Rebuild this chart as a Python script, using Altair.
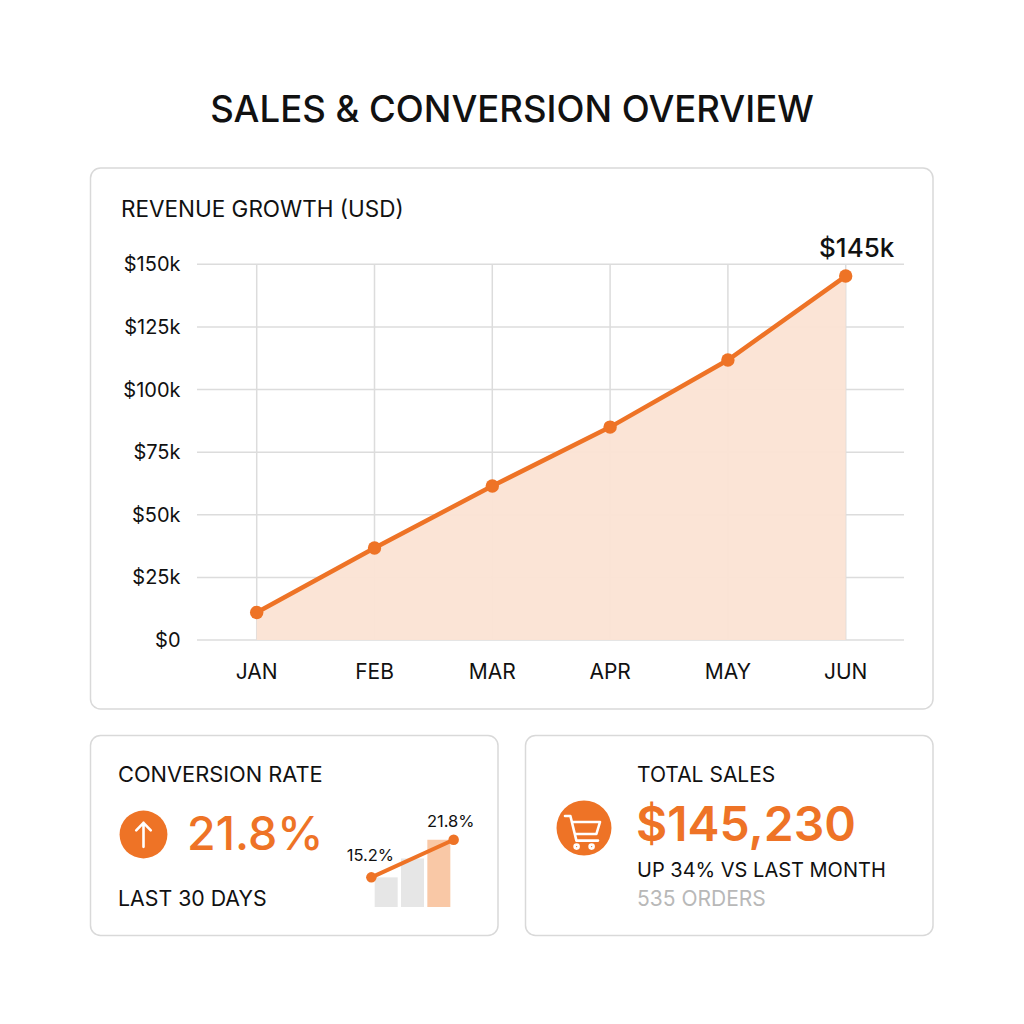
import altair as alt
import pandas as pd

# ---------------- data ----------------
months = ["JAN", "FEB", "MAR", "APR", "MAY", "JUN"]
revenue = [11000, 36700, 61500, 85000, 111800, 145300]
y_ticks = [0, 25000, 50000, 75000, 100000, 125000, 150000]
y_tick_labels = ["$0", "$25k", "$50k", "$75k", "$100k", "$125k", "$150k"]
conv_periods = [1, 2, 3]
conv_rates = [15.2, 18.5, 21.8]
total_sales = 145230
growth_pct = 34
orders = 535

# ---------------- style ----------------
FONT = "Inter"
ORANGE = "#EE7326"
AREA = "#FBE3D4"
GRID = "#DCDCDC"
BORDER = "#D9D9D9"
INK = "#111111"
GRAYBAR = "#E6E6E6"
PEACH = "#F9C8A6"


def P(v):
    # page pixel -> chart pixel (8px page margin, no padding)
    return v - 8


one = pd.DataFrame({"k": [0]})


def text(s, x, y, size, color=INK, weight=400, align="left", baseline="alphabetic"):
    return alt.Chart(one).mark_text(
        text=s, align=align, baseline=baseline, font=FONT, fontSize=size,
        fontWeight=weight, color=color
    ).encode(x=alt.value(P(x)), y=alt.value(P(y)))


def card(x0, y0, x1, y1):
    return alt.Chart(one).mark_rect(
        fill="white", stroke=BORDER, strokeWidth=1.5, cornerRadius=10
    ).encode(x=alt.value(P(x0)), x2=alt.value(P(x1)), y=alt.value(P(y0)), y2=alt.value(P(y1)))


rev_df = pd.DataFrame({"month": months, "revenue": revenue})
tick_df = pd.DataFrame({"v": y_ticks, "label": y_tick_labels})
conv_df = pd.DataFrame({"idx": conv_periods, "rate": conv_rates})
trend_df = pd.DataFrame({"x0": [conv_periods[0]], "x1": [conv_periods[-1]],
                         "r0": [conv_rates[0]], "r1": [conv_rates[-1]]})

main_x = alt.Scale(type="point", domain=months, range=[P(256.7), P(845.7)], padding=0)
main_y = alt.Scale(domain=[0, 150000], range=[P(640), P(264.3)], nice=False, zero=True)
X = alt.X("month:N", sort=months, scale=main_x, axis=None)
Y = alt.Y("revenue:Q", scale=main_y, axis=None)

mini_x = alt.Scale(domain=[0.5, 3.5], range=[P(368), P(457)], nice=False, zero=False)
mini_y = alt.Scale(domain=[10, 22], range=[P(907), P(838.6)], nice=False, zero=False)

layers = []

# cards
layers += [card(90.5, 168, 933, 709), card(90.5, 735.5, 498, 935.5), card(525.5, 735.5, 933, 935.5)]

# title
layers.append(text("SALES & CONVERSION OVERVIEW", 512, 121.5, 36.5, weight=500, align="center"))
layers.append(text("REVENUE GROWTH (USD)", 121, 216.7, 22.5))

# grid
layers.append(alt.Chart(tick_df).mark_rule(color=GRID, strokeWidth=1.5).encode(
    y=alt.Y("v:Q", scale=main_y, axis=None), x=alt.value(P(197)), x2=alt.value(P(904))))
layers.append(alt.Chart(rev_df).mark_rule(color=GRID, strokeWidth=1.5).encode(
    x=X, y=alt.value(P(264.3)), y2=alt.value(P(640))))

# area / line / points
layers.append(alt.Chart(rev_df).mark_area(color=AREA, opacity=0.95).encode(x=X, y=Y))
layers.append(alt.Chart(rev_df).mark_line(color=ORANGE, strokeWidth=4.5).encode(x=X, y=Y))
layers.append(alt.Chart(rev_df).mark_circle(color=ORANGE, size=180, opacity=1).encode(x=X, y=Y))

# y tick labels
layers.append(alt.Chart(tick_df).mark_text(
    align="right", baseline="middle", font=FONT, fontSize=20, color=INK, dy=1).encode(
    y=alt.Y("v:Q", scale=main_y, axis=None), x=alt.value(P(180.5)), text="label:N"))
# month labels
layers.append(alt.Chart(rev_df).mark_text(
    align="center", baseline="alphabetic", font=FONT, fontSize=21, color=INK).encode(
    x=X, y=alt.value(P(679)), text="month:N"))
# last value annotation
layers.append(alt.Chart(rev_df).transform_filter(alt.datum.month == months[-1]).transform_calculate(
    lbl="'$' + format(datum.revenue / 1000, '.0f') + 'k'").mark_text(
    align="center", baseline="alphabetic", font=FONT, fontSize=26, fontWeight=500,
    color=INK, dx=11, dy=-19.5).encode(x=X, y=Y, text="lbl:N"))

# ---------- conversion card ----------
layers.append(text("CONVERSION RATE", 118, 782.3, 21.8))
layers.append(text("LAST 30 DAYS", 118, 905.7, 21.3))
layers.append(text(f"{conv_rates[-1]}%", 187, 850, 46.5, color=ORANGE, weight=500))
layers.append(alt.Chart(one).mark_circle(color=ORANGE, size=2290, opacity=1).encode(
    x=alt.value(P(143.5)), y=alt.value(P(834.5))))
arrow = "M0,-0.9 L0,0.95 M-0.56,-0.32 L0,-0.9 L0.56,-0.32"
layers.append(alt.Chart(one).mark_point(
    shape=arrow, size=676, filled=False, stroke="white", strokeWidth=2.6,
    strokeCap="round", strokeJoin="round", opacity=1).encode(
    x=alt.value(P(143.5)), y=alt.value(P(834.5))))

# mini bars
layers.append(alt.Chart(conv_df).mark_bar(size=23).encode(
    x=alt.X("idx:Q", scale=mini_x, axis=None),
    y=alt.Y("rate:Q", scale=mini_y, axis=None, stack=None),
    y2=alt.value(P(907)),
    color=alt.condition(alt.datum.idx == conv_periods[-1], alt.value(PEACH), alt.value(GRAYBAR))))
layers.append(alt.Chart(trend_df).mark_rule(
    color=ORANGE, strokeWidth=4, strokeCap="round", xOffset=-11.5, x2Offset=11.5).encode(
    x=alt.X("x0:Q", scale=mini_x, axis=None), x2="x1:Q",
    y=alt.Y("r0:Q", scale=mini_y, axis=None), y2="r1:Q"))
for idx, off, ddx, ddy in [(conv_periods[0], -11.5, -1, -16.7), (conv_periods[-1], 11.5, -3, -13)]:
    base = alt.Chart(conv_df).transform_filter(alt.datum.idx == idx)
    enc = dict(x=alt.X("idx:Q", scale=mini_x, axis=None), y=alt.Y("rate:Q", scale=mini_y, axis=None))
    layers.append(base.mark_circle(color=ORANGE, size=110, opacity=1, xOffset=off).encode(**enc))
    layers.append(base.transform_calculate(lbl="format(datum.rate, '.1f') + '%'").mark_text(
        align="center", baseline="alphabetic", font=FONT, fontSize=16.5, color=INK,
        xOffset=off, dx=ddx, dy=ddy).encode(text="lbl:N", **enc))

# ---------- total sales card ----------
layers.append(text("TOTAL SALES", 637, 782.3, 21))
layers.append(text(f"${total_sales:,}", 636, 841, 48, color=ORANGE, weight=600))
layers.append(text(f"UP {growth_pct}% VS LAST MONTH", 637, 876.7, 20))
layers.append(text(f"{orders} ORDERS", 637, 906, 21, color="#B8B8B8"))
layers.append(alt.Chart(one).mark_circle(color=ORANGE, size=3020, opacity=1).encode(
    x=alt.value(P(584)), y=alt.value(P(828))))
cart = ("M-0.95,-0.6 L-0.68,-0.6 L-0.38,0.63 L0.7,0.63 "
        "M-0.6,-0.3 L0.8,-0.3 L0.62,0.3 L-0.46,0.3 "
        "M-0.47,0.93 A0.1,0.1 0 1,0 -0.27,0.93 A0.1,0.1 0 1,0 -0.47,0.93 "
        "M0.28,0.93 A0.1,0.1 0 1,0 0.48,0.93 A0.1,0.1 0 1,0 0.28,0.93")
layers.append(alt.Chart(one).mark_point(
    shape=cart, size=1600, filled=False, stroke="white", strokeWidth=2.6,
    strokeCap="round", strokeJoin="round", opacity=1).encode(
    x=alt.value(P(584)), y=alt.value(P(828))))

chart = alt.layer(*layers).resolve_scale(x="independent", y="independent").properties(
    width=1008, height=1008, padding=0, autosize=alt.AutoSizeParams(type="none"),
    background="white"
).configure_view(stroke=None)

chart.save("out.html", embed_options={"renderer": "svg", "actions": False})
